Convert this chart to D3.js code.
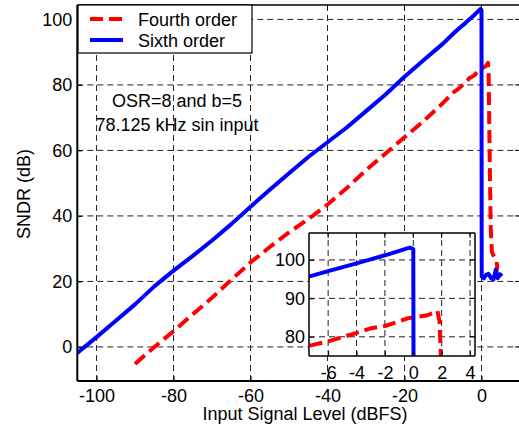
<!DOCTYPE html>
<html>
<head>
<meta charset="utf-8">
<script src="https://cdn.jsdelivr.net/npm/d3@7"></script>
<style>
  body { margin: 0; background: #fff; }
  svg { display: block; font-family: Arial, 'Liberation Sans', sans-serif; }
</style>
</head>
<body>
<svg id="chart" width="519" height="433"></svg>
<script>
// data
var sixthLevel = [-105, -100, -95, -90, -85, -80, -75, -70, -65, -60, -55, -50, -45, -40, -35, -30, -25, -20, -15, -10,
  -7.3, -6, -4, -2, -0.25, 0, 0.05, 0.6, 1.2, 1.8, 2.5, 3.1, 3.7, 4.2, 4.8, 5.3];
var sixthSndr = [-1.8, 3, 8, 13, 18.5, 23.3, 27.8, 32.5, 37.5, 42.8, 48, 53, 58, 62.5, 67, 72, 77, 82.5, 87.6, 92.6,
  95.7, 97.1, 99.1, 101.2, 103.2, 102.8, 21.5, 21, 22, 22.3, 21, 20.6, 23.6, 21, 22.2, 21.6];

var fourthLevel = [-90, -85, -80, -75, -70, -65, -60, -55, -50, -45, -40, -35, -30, -25, -20, -15, -10,
  -7.3, -6, -4, -3, -2, -1, -0.4, 0, 1, 1.7, 1.85, 2.1, 2.4, 2.7, 3.3, 3.9, 4.1, 3.7];
var fourthSndr = [-5.2, 0, 4.8, 10, 15, 20.5, 25.8, 30.5, 35, 39, 43.5, 48.5, 54, 59, 64, 69, 74.5,
  77.7, 78.8, 81, 82.2, 82.8, 84, 84.8, 85, 85.6, 86.7, 84, 60, 36, 29, 27.5, 26, 24.5, 22];

var mainXTicks = [-100, -80, -60, -40, -20, 0];
var mainYTicks = [0, 20, 40, 60, 80, 100];
var insetXTicks = [-6, -4, -2, 0, 2, 4];
var insetYTicks = [80, 90, 100];

var seriesNames = ['Fourth order', 'Sixth order'];
var notes = ['OSR=8 and b=5', '78.125 kHz sin input'];

// layout
var font_size = 18,
  grid_dash = '6,4',
  red_dash = '13,6';

var svg = d3.select('#chart');

var series = [
  { name: seriesNames[0], color: '#ff0000', dash: red_dash,
    pts: fourthLevel.map(function(v, i) { return [v, fourthSndr[i]]; }) },
  { name: seriesNames[1], color: '#0000ff', dash: null,
    pts: sixthLevel.map(function(v, i) { return [v, sixthSndr[i]]; }) }
];

// plain hyphen minus like the original
function fmt(d) { return String(d); }

function drawPanel(id, x, y, xTicks, yTicks, opts) {
  var x0 = x.range()[0], x1 = x.range()[1], y0 = y.range()[0], y1 = y.range()[1];
  var g = svg.append('g');

  g.append('clipPath').attr('id', id + '-clip')
    .append('rect').attr('x', x0).attr('y', y1).attr('width', x1 - x0).attr('height', y0 - y1);

  g.append('rect')
    .attr('x', x0).attr('y', y1).attr('width', x1 - x0).attr('height', y0 - y1)
    .attr('fill', '#fff');

  // grid
  g.selectAll('.vgrid').data(xTicks).enter().append('line')
    .attr('x1', function(d) { return x(d); }).attr('x2', function(d) { return x(d); })
    .attr('y1', y0).attr('y2', y1)
    .attr('stroke', '#222').attr('stroke-width', 1).attr('stroke-dasharray', grid_dash);
  g.selectAll('.hgrid').data(yTicks).enter().append('line')
    .attr('y1', function(d) { return y(d); }).attr('y2', function(d) { return y(d); })
    .attr('x1', x0).attr('x2', x1)
    .attr('stroke', '#222').attr('stroke-width', 1).attr('stroke-dasharray', grid_dash);

  // lines
  var line = d3.line()
    .x(function(d) { return x(d[0]); })
    .y(function(d) { return y(d[1]); });
  g.append('g').attr('clip-path', 'url(#' + id + '-clip)')
    .selectAll('path').data(series).enter().append('path')
    .attr('d', function(d) { return line(d.pts); })
    .attr('fill', 'none')
    .attr('stroke', function(d) { return d.color; })
    .attr('stroke-width', 4)
    .attr('stroke-linejoin', 'round')
    .attr('stroke-dasharray', function(d) { return d.dash; });

  // axes (ticks inside)
  var xAxis = d3.axisBottom(x).tickValues(xTicks).tickFormat(fmt)
    .tickSizeInner(-5).tickSizeOuter(0).tickPadding(opts.xPad);
  var yAxis = d3.axisLeft(y).tickValues(yTicks).tickFormat(fmt)
    .tickSizeInner(-5).tickSizeOuter(0).tickPadding(opts.yPad);
  var xa = g.append('g').attr('transform', 'translate(0,' + y0 + ')').call(xAxis);
  var ya = g.append('g').attr('transform', 'translate(' + x0 + ',0)').call(yAxis);
  [xa, ya].forEach(function(a) {
    a.select('.domain').remove();
    a.selectAll('line').attr('stroke', '#000');
    a.selectAll('text').attr('font-size', font_size).attr('fill', '#000')
      .attr('font-family', "Arial, 'Liberation Sans', sans-serif");
  });
  // top/right ticks
  g.selectAll('.tt').data(xTicks).enter().append('line')
    .attr('x1', function(d) { return x(d); }).attr('x2', function(d) { return x(d); })
    .attr('y1', y1).attr('y2', y1 + 5).attr('stroke', '#000');
  g.selectAll('.rt').data(yTicks).enter().append('line')
    .attr('y1', function(d) { return y(d); }).attr('y2', function(d) { return y(d); })
    .attr('x1', x1).attr('x2', x1 - 5).attr('stroke', '#000');

  // frame
  g.append('line').attr('x1', x0).attr('x2', x1).attr('y1', y1).attr('y2', y1)
    .attr('stroke', '#000').attr('stroke-width', opts.topW);
  g.append('line').attr('x1', x1).attr('x2', x1).attr('y1', y1).attr('y2', y0)
    .attr('stroke', '#000').attr('stroke-width', opts.topW);
  g.append('line').attr('x1', x0).attr('x2', x1).attr('y1', y0).attr('y2', y0)
    .attr('stroke', '#000').attr('stroke-width', opts.axisW);
  g.append('line').attr('x1', x0).attr('x2', x0).attr('y1', y1).attr('y2', y0)
    .attr('stroke', '#000').attr('stroke-width', opts.axisW);
  return g;
}

// main axes
var x = d3.scaleLinear().domain([-105, 10]).range([77.3, 520]);
var y = d3.scaleLinear().domain([-10.4, 104.4]).range([381, 5]);
drawPanel('main', x, y, mainXTicks, mainYTicks, { xPad: 8, yPad: 5, topW: 1.3, axisW: 2 });

// annotations
svg.selectAll('.note').data(notes).enter().append('text')
  .attr('x', 177)
  .attr('y', function(d, i) { return 107 + i * 23.5; })
  .attr('text-anchor', 'middle')
  .attr('font-size', font_size)
  .text(function(d) { return d; });

// legend
var legend = svg.append('g');
legend.append('rect')
  .attr('x', 78).attr('y', 5).attr('width', 174).attr('height', 48)
  .attr('fill', '#fff').attr('stroke', '#000').attr('stroke-width', 1.2);
var item = legend.selectAll('.item').data(series).enter().append('g')
  .attr('transform', function(d, i) { return 'translate(0,' + (19 + i * 21) + ')'; });
item.append('line')
  .attr('x1', 90).attr('x2', 123).attr('y1', 0).attr('y2', 0)
  .attr('stroke', function(d) { return d.color; })
  .attr('stroke-width', 4)
  .attr('stroke-dasharray', function(d) { return d.dash; });
item.append('text')
  .attr('x', 138).attr('y', 6.5)
  .attr('font-size', font_size)
  .text(function(d) { return d.name; });

// axis titles
svg.append('text')
  .attr('x', 305).attr('y', 420)
  .attr('text-anchor', 'middle')
  .attr('font-size', font_size)
  .text('Input Signal Level (dBFS)');
svg.append('text')
  .attr('transform', 'translate(30,194) rotate(-90)')
  .attr('text-anchor', 'middle')
  .attr('font-size', font_size)
  .text('SNDR (dB)');

// inset
var xi = d3.scaleLinear().domain([-7.35, 4.35]).range([309, 475]);
var yi = d3.scaleLinear().domain([75, 107]).range([356, 233]);
drawPanel('inset', xi, yi, insetXTicks, insetYTicks, { xPad: 10, yPad: 4, topW: 1.5, axisW: 1.5 });
</script>
</body>
</html>
